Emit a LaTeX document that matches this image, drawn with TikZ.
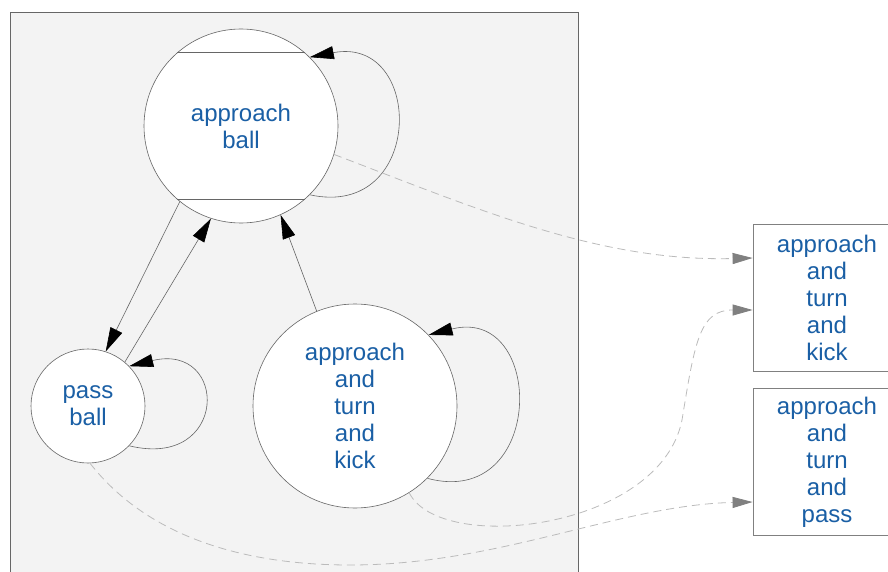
\documentclass[tikz,border=0pt]{standalone}
\usepackage{fontspec}
\setmainfont{Liberation Sans}
\usepackage{xcolor}
\usepackage{tikz}
\usetikzlibrary{arrows.meta}
\definecolor{C1A5FA5}{HTML}{1A5FA5}
\definecolor{CF3F3F3}{HTML}{F3F3F3}
\definecolor{C666666}{HTML}{666666}
\definecolor{C808080}{HTML}{808080}
\definecolor{CBBBBBB}{HTML}{BBBBBB}

\begin{document}
\begin{tikzpicture}[inner sep=0pt,
  state/.style={shape=circle, draw=C666666, fill=white, line width=0.6pt, align=center, text=C1A5FA5, font=\fontsize{24}{27}\selectfont},
  task/.style={shape=rectangle, draw=C808080, fill=white, line width=0.8pt, align=center, text=C1A5FA5, font=\fontsize{24}{27}\selectfont, minimum width=148pt, minimum height=147pt},
  trans/.style={draw=C666666, line width=0.6pt, -{Triangle[length=24pt,width=13pt,color=black]}},
  link/.style={draw=CBBBBBB, line width=0.8pt, dash pattern=on 8pt off 5pt, -{Triangle[length=20pt,width=11pt,color=C808080]}}]
\useasboundingbox (0pt,0pt) rectangle (888pt,-572pt);
% container
\path [fill=CF3F3F3] (10pt,-12pt) rectangle (578pt,-572pt);
\path [draw=C666666, line width=0.8pt] (10pt,-572pt) -- (10pt,-12pt) -- (578pt,-12pt) -- (578pt,-572pt);
% states
\node (n0) [state, minimum size=194pt, at={(241pt,-126pt)}] {approach\\ball};
\node (n1) [state, minimum size=114pt, at={(88pt,-406pt)}] {pass\\ball};
\node (n2) [state, minimum size=204pt, at={(355pt,-406pt)}] {approach\\and\\turn\\and\\kick};
\path [draw=C666666, line width=0.6pt] (n0.131) -- (n0.49);
\path [draw=C666666, line width=0.6pt] (n0.229) -- (n0.311);
% tasks
\node (n3) [task, at={(827pt,-298pt)}] {approach\\and\\turn\\and\\kick};
\node (n4) [task, at={(827pt,-462pt)}] {approach\\and\\turn\\and\\pass};
% transitions
\path [trans] (n0.-45) .. controls (425pt,-220pt) and (425pt,-35pt) .. (n0.45);
\path [trans] (n1.-44) .. controls (229pt,-470pt) and (229pt,-342pt) .. (n1.44);
\path [trans] (n2.-45) .. controls (546pt,-510pt) and (546pt,-305pt) .. (n2.44);
\path [trans] (n0.231) -- (n1.72);
\path [trans] (n1.50) -- (n0.252);
\path [trans] (n2.112) -- (n0.294);
% links to tasks
\path [link] (n0.-17) .. controls (480pt,-210pt) and (600pt,-262pt) .. ([yshift=40pt]n3.west);
\path [link] (n2.-58) .. controls (440pt,-555pt) and (660pt,-530pt) .. (682pt,-420pt) .. controls (695pt,-340pt) and (700pt,-310pt) .. ([yshift=-12pt]n3.west);
\path [link] (n1.-88) .. controls (150pt,-540pt) and (250pt,-565pt) .. (350pt,-565pt) .. controls (500pt,-565pt) and (620pt,-505pt) .. ([yshift=-40pt]n4.west);
\end{tikzpicture}
\end{document}
